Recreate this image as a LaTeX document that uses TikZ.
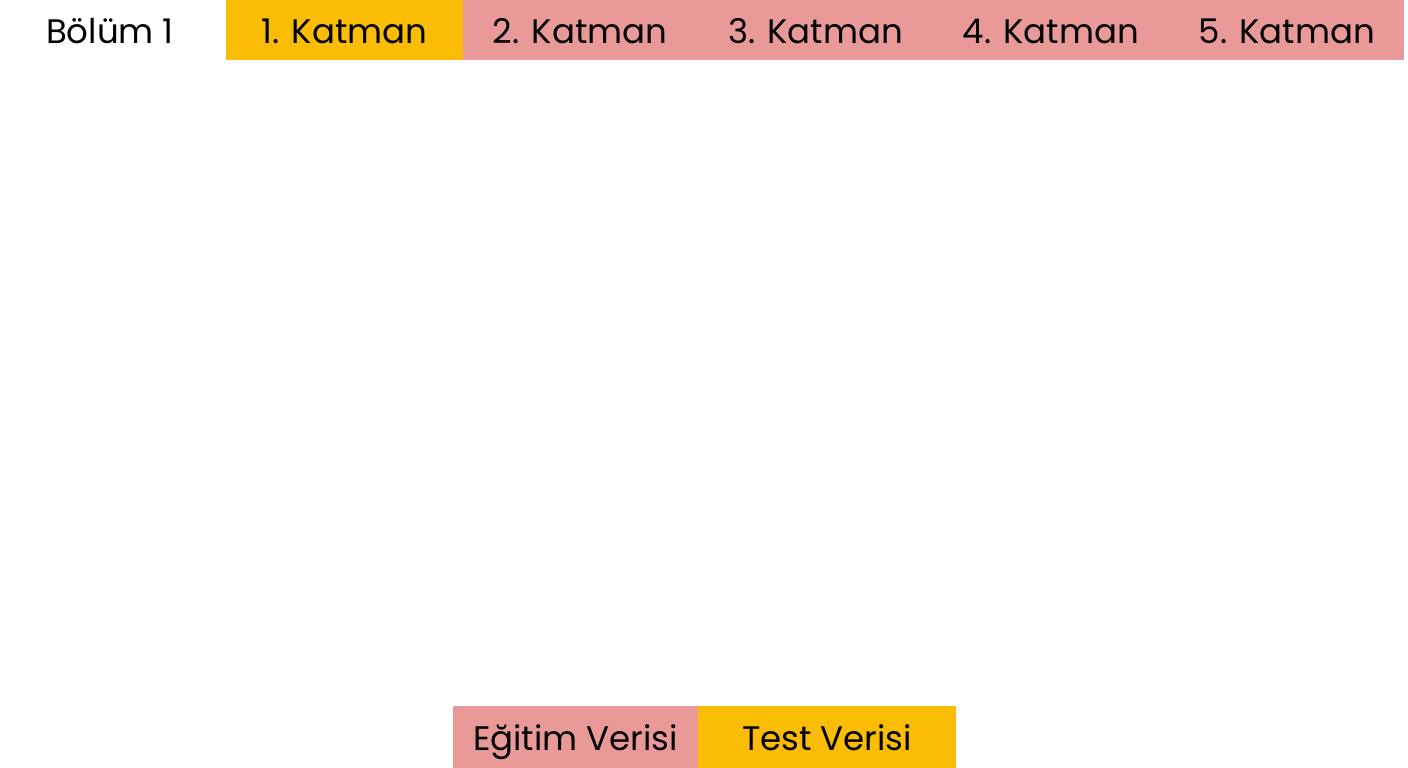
\documentclass[tikz,border=0pt]{standalone}
\usepackage{fontspec}
\setmainfont{Poppins}
\definecolor{kyellow}{HTML}{FBBC04}
\definecolor{kpink}{HTML}{EA9999}
\begin{document}
\begin{tikzpicture}[x=1pt,y=-1pt,
  cell/.style={inner sep=0pt, outer sep=0pt, anchor=base, font=\fontsize{34}{40}\selectfont, text=black}]
\useasboundingbox[fill=white] (0,0) rectangle (1408,768);
% top row
\fill[kyellow] (226,0) rectangle (463,60);
\fill[kpink] (463,0) rectangle (1404,60);
\node[cell] (b1) at (110,44) {Bölüm 1};
\node[cell] (k1) at (344.5,44) {1. Katman};
\node[cell] (k2) at (580,44) {2. Katman};
\node[cell] (k3) at (815.5,44) {3. Katman};
\node[cell] (k4) at (1051,44) {4. Katman};
\node[cell] (k5) at (1287,44) {5. Katman};
% bottom row
\fill[kpink] (453,706) rectangle (698,768);
\fill[kyellow] (698,706) rectangle (956,768);
\node[cell] (e) at (575.5,750) {Eğitim Verisi};
\node[cell] (t) at (827,750) {Test Verisi};
\end{tikzpicture}
\end{document}
